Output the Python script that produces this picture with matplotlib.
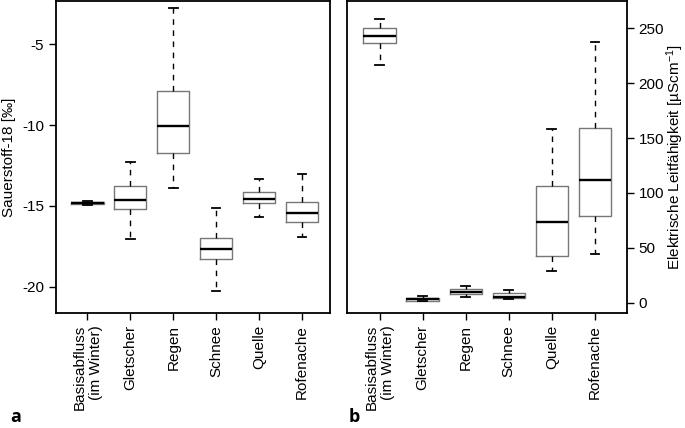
import numpy as np
import matplotlib
matplotlib.use("Agg")
import matplotlib.pyplot as plt

plt.rcParams['font.family'] = ['Liberation Sans', 'DejaVu Sans']
plt.rcParams['axes.unicode_minus'] = False
plt.rcParams['mathtext.fontset'] = 'custom'
plt.rcParams['mathtext.rm'] = 'Liberation Sans'
plt.rcParams['mathtext.it'] = 'Liberation Sans:italic'

categories = ["Basisabfluss\n(im Winter)", "Gletscher", "Regen", "Schnee", "Quelle", "Rofenache"]

# Sauerstoff-18 [permil]
o18_whislo = [-14.95, -17.07, -13.91, -20.25, -15.71, -16.94]
o18_q1     = [-14.90, -15.19, -11.75, -18.30, -14.80, -15.98]
o18_med    = [-14.84, -14.63, -10.06, -17.65, -14.57, -15.44]
o18_q3     = [-14.76, -13.75,  -7.89, -17.00, -14.16, -14.78]
o18_whishi = [-14.72, -12.26,  -2.77, -15.16, -13.34, -13.03]

# elektrische Leitfaehigkeit [uS/cm]
ec_whislo = [216.6, 1.5,  5.5,  3.1,  28.9,  44.4]
ec_q1     = [236.3, 2.0,  7.6,  4.0,  42.8,  79.3]
ec_med    = [243.0, 3.0, 10.0,  5.5,  73.3, 111.8]
ec_q3     = [250.5, 4.0, 12.2,  9.1, 106.3, 158.9]
ec_whishi = [258.5, 6.4, 15.5, 11.6, 158.3, 237.2]


def make_stats(lo, q1, med, q3, hi):
    return [dict(whislo=a, q1=b, med=c, q3=d, whishi=e, fliers=[])
            for a, b, c, d, e in zip(lo, q1, med, q3, hi)]


def draw(ax, stats):
    ax.bxp(stats, positions=np.arange(1, 7), widths=0.75, showfliers=False,
           boxprops=dict(color='#777777', linewidth=1.0),
           medianprops=dict(color='black', linewidth=1.7),
           whiskerprops=dict(color='black', linewidth=1.0, linestyle=(0, (4, 4))),
           capprops=dict(color='black', linewidth=1.3),
           capwidths=0.2)
    ax.set_xticks(np.arange(1, 7))
    ax.set_xticklabels(categories, rotation=90, ha='center', va='top',
                       multialignment='right', fontsize=11)
    for s in ax.spines.values():
        s.set_linewidth(1.3)
    ax.tick_params(length=5, width=1.0, labelsize=11)


fig = plt.figure(figsize=(6.85, 4.28), dpi=100)
ax1 = fig.add_axes([55.7 / 685, 1 - 313.3 / 428, 273.8 / 685, 312.3 / 428])
ax2 = fig.add_axes([347.3 / 685, 1 - 313.3 / 428, 279.4 / 685, 312.3 / 428])

draw(ax1, make_stats(o18_whislo, o18_q1, o18_med, o18_q3, o18_whishi))
ax1.set_xlim(0.26, 6.64)
ax1.set_ylim(-21.65, -2.32)
ax1.set_yticks([-5, -10, -15, -20])
ax1.set_ylabel("Sauerstoff-18 [‰]", fontsize=11)

draw(ax2, make_stats(ec_whislo, ec_q1, ec_med, ec_q3, ec_whishi))
ax2.set_xlim(0.25, 6.74)
ax2.set_ylim(-9.66, 274.9)
ax2.set_yticks([0, 50, 100, 150, 200, 250])
ax2.yaxis.tick_right()
ax2.yaxis.set_label_position('right')
ax2.set_ylabel(r"Elektrische Leitfähigkeit [µScm$^{-1}$]", fontsize=11, labelpad=0)

fig.text(10 / 685, 1 - 422 / 428, "a", fontsize=13, fontweight='bold',
         family='Open Sans', va='baseline')
fig.text(349 / 685, 1 - 422 / 428, "b", fontsize=13, fontweight='bold',
         family='Open Sans', va='baseline')

fig.savefig("out.png", dpi=100)
